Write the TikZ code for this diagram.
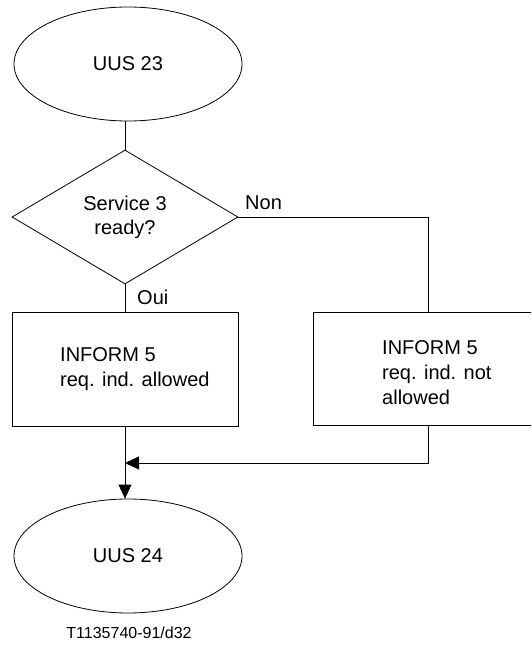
\documentclass[tikz,border=0pt]{standalone}
\usepackage{fontspec}
\setmainfont{Liberation Sans}
\usetikzlibrary{shapes.geometric,arrows.meta,calc}
\begin{document}
\begin{tikzpicture}[x=1pt,y=-1pt,
  line/.style={line width=0.9pt,draw=black},
  term/.style={ellipse,draw,line width=0.8pt,minimum width=228pt,minimum height=114pt,inner sep=0pt,font=\fontsize{20}{24}\selectfont},
  decision/.style={diamond,draw,line width=0.8pt,minimum width=226pt,minimum height=134pt,inner sep=0pt,align=center,font=\fontsize{20}{24}\selectfont},
  procbox/.style={rectangle,draw,line width=0.8pt,inner sep=0pt},
  boxtext/.style={align=left,inner sep=0pt,font=\fontsize{20}{25}\selectfont},
  lbl/.style={inner sep=0pt,font=\fontsize{20}{24}\selectfont},
  tip/.style={-{Triangle[length=14pt,width=13pt]}}
]
\useasboundingbox (0,0) rectangle (531,645);
\clip (0,0) rectangle (531,645);
\node[term] (e1) at (128,64) {UUS 23};
\node[decision] (d) at (125,217) {Service 3\\ready?};
\node[procbox,minimum width=226pt,minimum height=114pt] (lb) at (125,369) {};
\node[boxtext,anchor=west] (lbt) at (60,369.5) {INFORM 5\\req. ind. allowed};
\node[procbox,minimum width=230pt,minimum height=113pt] (rb) at (428,368.5) {};
\node[boxtext,anchor=west] (rbt) at (382,372.5) {INFORM 5\\req. ind. not\\allowed};
\node[term] (e2) at (128,556) {UUS 24};
\node[inner sep=0pt,font=\fontsize{16}{19}\selectfont] (cap) at (129,633) {T1135740-91/d32};
\node[lbl,anchor=west] (non) at (245,203) {Non};
\node[lbl,anchor=west] (oui) at (137,297) {Oui};
\coordinate (m) at (125,463);
\draw[line] (d.north |- e1.south) -- (d.north);
\draw[line] (d.south) -- (lb.north);
\draw[line] (d.east) -- (d.east -| rb.north) -- (rb.north);
\draw[line,tip] (lb.south) -- (lb.south |- e2.north);
\draw[line,tip] (rb.south) -- (rb.south |- m) -- (m);
\end{tikzpicture}
\end{document}
